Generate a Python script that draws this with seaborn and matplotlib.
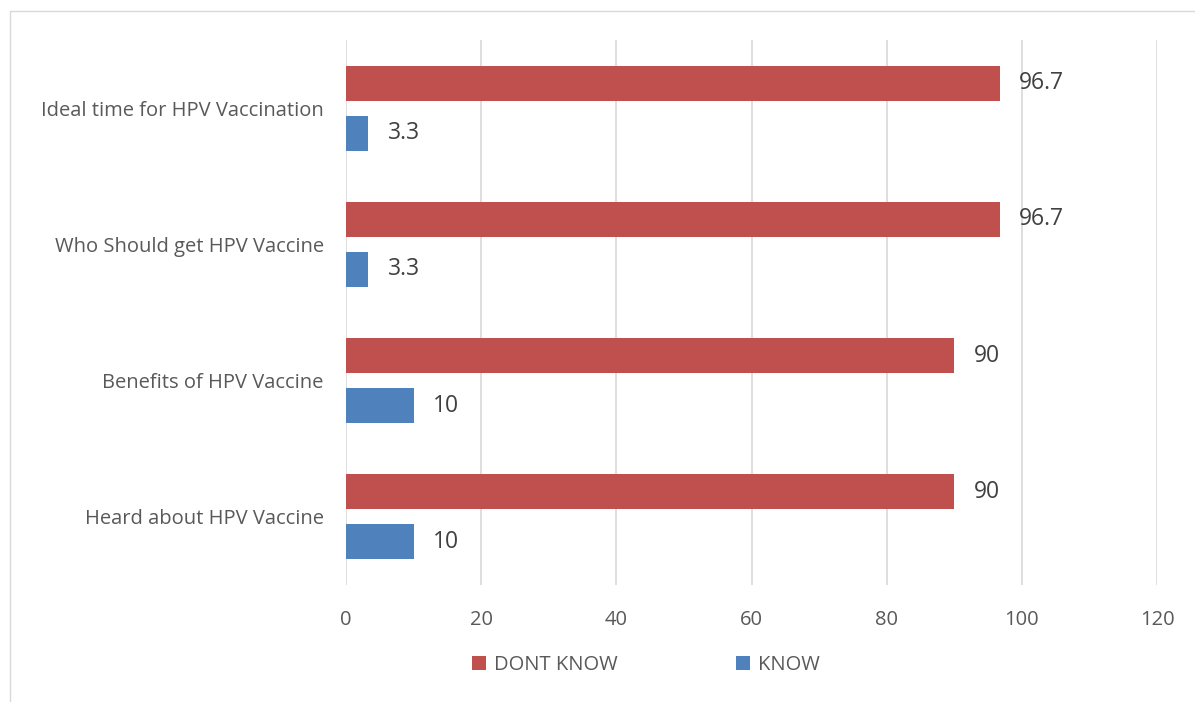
import matplotlib
matplotlib.use("Agg")
import matplotlib.pyplot as plt
import seaborn as sns
import pandas as pd
from matplotlib.patches import Rectangle, Patch

categories = [
    "Ideal time for HPV Vaccination",
    "Who Should get HPV Vaccine",
    "Benefits of HPV Vaccine",
    "Heard about HPV Vaccine",
]
dont_know = [96.7, 96.7, 90, 90]
know = [3.3, 3.3, 10, 10]
dont_know_labels = ["96.7", "96.7", "90", "90"]
know_labels = ["3.3", "3.3", "10", "10"]
series = ["DONT KNOW", "KNOW"]
colors = ["#C0504D", "#4F81BD"]
xticks = [0, 20, 40, 60, 80, 100, 120]

df = pd.DataFrame({
    "item": categories * 2,
    "group": ["DONT KNOW"] * 4 + ["KNOW"] * 4,
    "value": dont_know + know,
})

sns.set_style("white")
plt.rcParams["font.family"] = ["Open Sans", "DejaVu Sans"]
text_color = "#595959"

fig = plt.figure(figsize=(11.95, 7.02), dpi=100)
ax = fig.add_axes([346 / 1195, 1 - 585 / 702, (1157 - 346) / 1195, (585 - 40) / 702])

sns.barplot(data=df, x="value", y="item", hue="group", hue_order=series,
            palette=colors, orient="y", width=0.733, gap=0.3, saturation=1,
            linewidth=0, ax=ax, legend=False)

ax.set_xlim(0, 120)
ax.set_ylim(3.5, -0.5)
ax.set_xticks(xticks)
ax.set_xticklabels([str(t) for t in xticks])
ax.set_xlabel("")
ax.set_ylabel("")
ax.grid(axis="x", color="#D9D9D9", linewidth=1.2)
ax.set_axisbelow(True)
for s in ax.spines.values():
    s.set_visible(False)
ax.tick_params(axis="both", length=0, colors=text_color, labelsize=14.5)
ax.tick_params(axis="x", pad=18)
ax.tick_params(axis="y", pad=16)

for cont, labels in zip(ax.containers, [dont_know_labels, know_labels]):
    ax.bar_label(cont, labels=labels, padding=14, fontsize=16.5, color="#404040")

handles = [Patch(facecolor=c, edgecolor="none") for c in colors]
fig.legend(handles, series, loc="center", bbox_to_anchor=(646 / 1195, 1 - 665 / 702),
           ncol=2, frameon=False, fontsize=14.5, handlelength=0.7, handleheight=0.7,
           columnspacing=5.9, handletextpad=0.4, labelcolor=text_color)

fig.patches.append(Rectangle((10 / 1195, -0.01), 1.2, 1 - 11 / 702 + 0.01,
                             transform=fig.transFigure, fill=False,
                             edgecolor="#D9D9D9", linewidth=1))

fig.savefig("out.png", dpi=100)
